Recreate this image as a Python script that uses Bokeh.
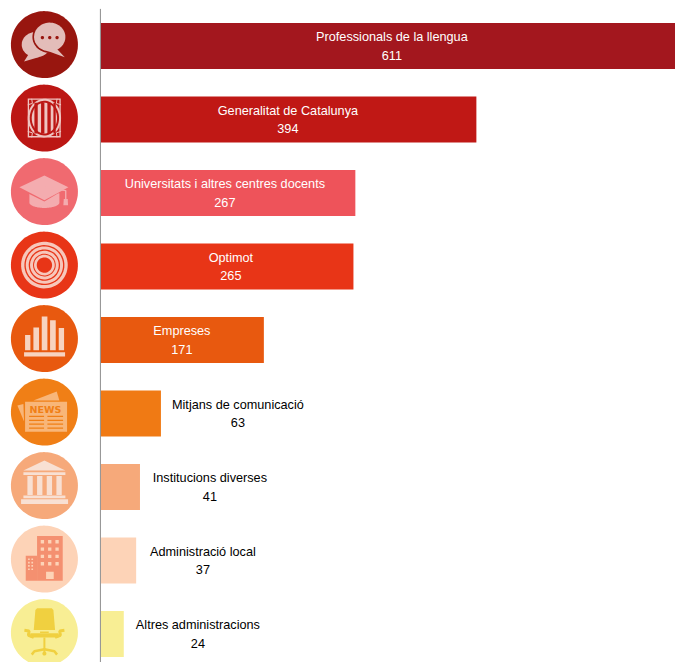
import numpy as np
from bokeh.core.properties import value
from bokeh.embed import file_html
from bokeh.models import ColumnDataSource, Range1d
from bokeh.plotting import figure
from bokeh.resources import INLINE

# Chart data
categories = ["Professionals de la llengua", "Generalitat de Catalunya",
              "Universitats i altres centres docents", "Optimot", "Empreses",
              "Mitjans de comunicació", "Institucions diverses",
              "Administració local", "Altres administracions"]
counts = [611, 394, 267, 265, 171, 63, 41, 37, 24]

# Styling
bar_colors = ["#A3171E", "#C01815", "#EE535A", "#E83517", "#E8590F",
              "#F07A14", "#F6A97A", "#FDD3B7", "#F8EE94"]
disc_colors = ["#98160F", "#BC1714", "#F06A70", "#E83517", "#E8590F",
               "#F07F16", "#F6A97A", "#FDD3B7", "#F8EE94"]
text_colors = ["white"] * 5 + ["black"] * 4
label_px = [392, 288, 225, 231, 182, 238, 210, 203, 198]

W, H = 675, 662
PX_PER_UNIT = 0.953
BAR_LEFT = 101.0
PITCH = 73.5
FIRST_ROW = 46.0
DISC_X, DISC_Y0, DISC_R = 44.5, 44.7, 33.5
FONT = "Liberation Sans"
NUDGE = 0.6


def dx(px):
    return (np.asarray(px, dtype=float) - BAR_LEFT) / PX_PER_UNIT


def dy(py):
    return (np.asarray(py, dtype=float) - FIRST_ROW) / PITCH


p = figure(width=W, height=H, output_backend="svg", toolbar_location=None,
           x_range=Range1d(float(dx(NUDGE)), float(dx(W + NUDGE))),
           y_range=Range1d(float(dy(H + NUDGE)), float(dy(NUDGE))),
           x_axis_type=None, y_axis_type=None, min_border=0)
p.grid.visible = False
p.outline_line_color = None

rows = list(range(len(categories)))
src = ColumnDataSource(dict(y=rows, right=counts, color=bar_colors, cat=categories,
                            num=[str(c) for c in counts], lx=[float(dx(v)) for v in label_px],
                            tc=text_colors))

p.hbar(y="y", left=0, right="right", height=46 / PITCH, fill_color="color", line_color=None, source=src)
p.segment(x0=[float(dx(100.5))], x1=[float(dx(100.5))], y0=[float(dy(9))], y1=[float(dy(H + 2))],
          line_color="#8C8C8C", line_width=1)

for col, off in (("cat", -8.5), ("num", 9.5)):
    p.text(x="lx", y="y", text=col, source=src, text_color="tc", text_align="center",
           text_baseline="middle", text_font=value(FONT), text_font_size="12.7px", y_offset=off)


# Pictograms are described in a 3x grid centred on each disc.
def center(i):
    return DISC_X, DISC_Y0 + i * PITCH


def poly(i, pts, color):
    cx, cy = center(i)
    pts = np.asarray(pts, dtype=float)
    p.patch(dx(cx + pts[:, 0] / 3), dy(cy + pts[:, 1] / 3), color=color, line_color=None)


def ell(ox, oy, rx, ry=None, a0=0.0, a1=2 * np.pi, n=60):
    ry = rx if ry is None else ry
    t = np.linspace(a0, a1, n)
    return np.column_stack([ox + rx * np.cos(t), oy + ry * np.sin(t)])


def rect(i, x0, y0, x1, y1, color):
    poly(i, [(x0, y0), (x1, y0), (x1, y1), (x0, y1)], color)


def stroke(i, pts, color, width=1.0):
    cx, cy = center(i)
    pts = np.asarray(pts, dtype=float)
    p.line(dx(cx + pts[:, 0] / 3), dy(cy + pts[:, 1] / 3), line_color=color, line_width=width)


for i, c in enumerate(disc_colors):
    poly(i, ell(0, 0, DISC_R * 3, n=120), c)

# Speech bubbles
c = "#E3BDB9"
d = disc_colors[0]
poly(0, ell(-25, 0, 43, 38), c)
poly(0, [(-45, 25), (-61, 51), (-15, 37)], c)
poly(0, ell(16, -23, 52, 48), d)
poly(0, ell(16, -23, 47, 43), c)
poly(0, [(35, 10), (61, 38), (10, 19)], c)
for ox in (-6, 16, 38):
    poly(0, ell(ox, -21, 5), d)

# Coat of arms
c = "#EFC4C0"
d = disc_colors[1]
rect(1, -50, -59, 49, 58, c)
rect(1, -46, -55, 45, 54, d)
poly(1, ell(0, 0, 50, 58), c)
poly(1, ell(0, 0, 44, 52), d)
poly(1, ell(0, 0, 38, 46), c)
for x0, x1 in ((-30, -20), (-10, 0), (9, 19), (27, 34)):
    rect(1, x0, -46, x1, 46, d)
for sx in (-1, 1):
    for sy in (-1, 1):
        stroke(1, [(sx * 50, sy * 40), (sx * 36, sy * 44), (sx * 38, sy * 58)], c, 1)

# Graduation cap
c = "#F4ACAF"
d = disc_colors[2]
poly(2, np.vstack([ell(0, 33, 45, 16, 0, np.pi), [(-45, 5), (45, 5)]]), c)
poly(2, [(-75, -13), (0, -48), (72, -13), (0, 30), (-50, 5)], d)
poly(2, [(-75, -13), (0, -48), (72, -13), (0, 26)], c)
stroke(2, [(2, -13), (64, -3), (64, 25)], c, 1.4)
poly(2, [(58, 22), (70, 22), (71, 41), (57, 41)], c)

# Concentric target
c = "#F7C7BB"
d = disc_colors[3]
for r, col in ((70, c), (60, d), (56, c), (47, d), (43, c), (34, d), (31, c), (23, d)):
    poly(3, ell(0, 0, r), col)

# Bar pictogram
c = "#F7D3C0"
for x0, x1, top in ((-58, -42, -11), (-33, -16, -33), (-8, 9, -66), (17, 34, -55), (43, 59, -32)):
    rect(4, x0, top, x1, 35, c)
rect(4, -61, 41, 62, 54, c)

# Newspaper
c = "#F8B679"
d = disc_colors[5]
poly(5, [(-33, -35), (37, -62), (45, -35)], c)
poly(5, [(-81, -20), (-63, -24), (-61, 28)], c)
rect(5, -58, -31, 68, 59, c)
for y in (13, 25, 36, 48):
    rect(5, -46, y - 2, -1, y + 2, d)
    rect(5, 9, y - 2, 56, y + 2, d)
cx5, cy5 = center(5)
p.text(x=[float(dx(cx5 + 1))], y=[float(dy(cy5 - 2.5))], text=["NEWS"], text_color=d,
       text_align="center", text_baseline="middle", text_font=value("DejaVu Sans"),
       text_font_style="bold", text_font_size="9.5px")

# Institution building
c = "#F8E0D3"
poly(6, [(0, -75), (-63, -45), (63, -45)], c)
rect(6, -63, -40, 63, -32, c)
for x0 in (-51, -22, 7, 36):
    rect(6, x0, -29, x0 + 16, 28, c)
rect(6, -63, 30, 63, 38, c)
rect(6, -70, 41, 71, 55, c)

# Office block
c = "#F49070"
d = disc_colors[7]
rect(7, -22, -69, 55, 65, c)
rect(7, -56, -10, -22, 65, c)
for x0 in (-11, 11, 33):
    for y0 in (-57, -35, -13, 9):
        rect(7, x0, y0, x0 + 10, y0 + 10, d)
rect(7, 5, 38, 28, 60, d)
for x0 in (-49, -39):
    for y0 in (-2, 8, 18, 28):
        rect(7, x0, y0, x0 + 5, y0 + 5, d)

# Office chair
c = "#F0D040"
poly(8, [(-22, -73), (22, -73), (27, -68), (32, -8), (-32, -8), (-27, -68)], c)
rect(8, -42, 2, 42, 15, c)
rect(8, -13, -3, 13, 1, c)
for s in (-1, 1):
    stroke(8, [(s * 60, -7), (s * 46, -5), (s * 48, 8), (s * 32, 14)], c, 3)
    stroke(8, [(0, 50), (s * 30, 56), (s * 38, 66)], c, 2.5)
rect(8, -3, 15, 3, 62, c)
poly(8, ell(0, 63, 6), c)

open("out.html", "w").write(file_html(p, INLINE))
